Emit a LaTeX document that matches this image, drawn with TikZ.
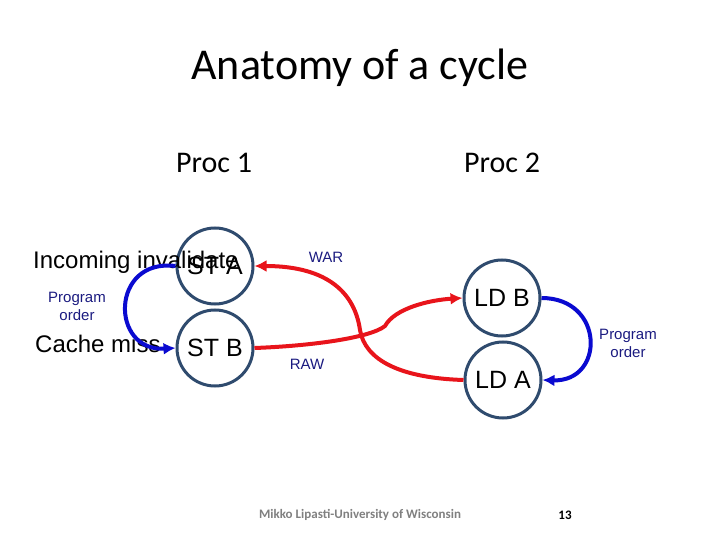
\documentclass[tikz,border=0pt]{standalone}
\usepackage{fontspec}
\setmainfont{Liberation Sans}
\newfontfamily\calfont{Carlito}
\usetikzlibrary{arrows.meta}
\definecolor{ringc}{HTML}{2F4B6E}
\definecolor{redc}{HTML}{E8141B}
\definecolor{bluec}{HTML}{0A0AD0}
\definecolor{navyc}{HTML}{1A1A80}
\begin{document}
\begin{tikzpicture}[x=1pt,y=-1pt,
  opnode/.style={circle,draw=ringc,line width=3pt,minimum size=76pt,inner sep=0pt,font=\fontsize{25}{27}\selectfont},
  redarrow/.style={draw=redc,line width=4pt,-{Latex[length=12pt,width=12pt]}},
  bluearrow/.style={draw=bluec,line width=4pt,-{Latex[length=12pt,width=12pt]}},
  smalllbl/.style={text=navyc,font=\fontsize{15}{18}\selectfont,align=center},
  biglbl/.style={font=\fontsize{24}{26}\selectfont}]
\useasboundingbox (0,0) rectangle (720,540);
\node[font=\calfont\fontsize{44}{48}\selectfont] (title) at (360,68) {Anatomy of a cycle};
\node[font=\calfont\fontsize{30}{32}\selectfont] (p1) at (214,163) {Proc 1};
\node[font=\calfont\fontsize{30}{32}\selectfont] (p2) at (502,163) {Proc 2};
\node[opnode] (sta) at (215,266) {ST A};
\node[opnode] (stb) at (215,348) {ST B};
\node[opnode] (ldb) at (502,298) {LD B};
\node[opnode] (lda) at (503,380) {LD A};
\node[biglbl,anchor=base west,inner sep=0pt] (inv) at (33,268) {Incoming invalidate};
\node[biglbl,anchor=base west,inner sep=0pt] (miss) at (35,352) {Cache miss};
\node[smalllbl] (po1) at (77,306) {Program\\order};
\node[smalllbl] (po2) at (628,343) {Program\\order};
\node[smalllbl] (war) at (326,257) {WAR};
\node[smalllbl] (raw) at (307,364) {RAW};
\draw[bluearrow] (sta.west) .. controls (110,258) and (110,352) .. (stb.west);
\draw[bluearrow] (ldb.east) .. controls (605,298) and (605,382) .. (lda.east);
\draw[redarrow] (lda.west) .. controls (400,378) and (365,360) .. (360,330) .. controls (355,295) and (330,266) .. (sta.east);
\draw[redarrow] (stb.east) .. controls (310,346) and (370,338) .. (385,326) .. controls (395,308) and (430,300) .. (ldb.west);
\node[font=\calfont\bfseries\fontsize{13}{15}\selectfont,text=black!50] (foot) at (360,515) {Mikko Lipasti-University of Wisconsin};
\node[font=\calfont\bfseries\fontsize{13}{15}\selectfont] (num) at (565,515) {13};
\end{tikzpicture}
\end{document}
